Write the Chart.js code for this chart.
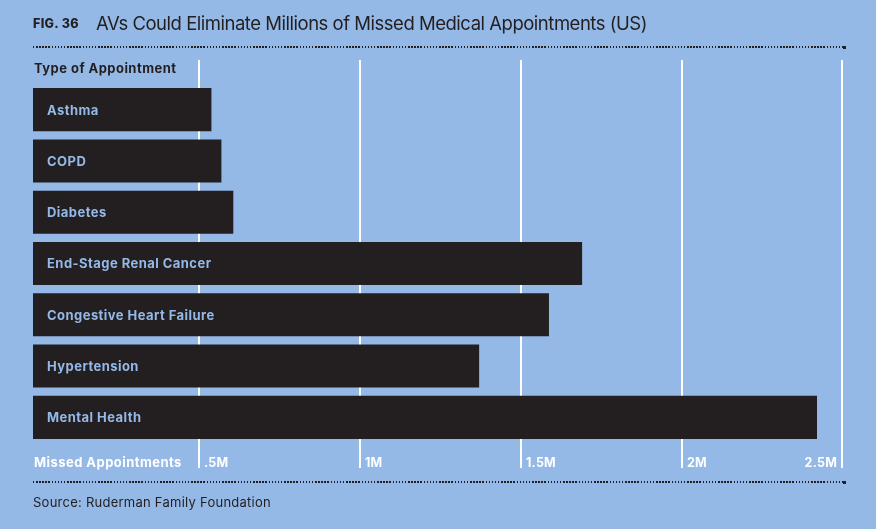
<!DOCTYPE html>
<html>
<head>
<meta charset="utf-8">
<script src="https://cdn.jsdelivr.net/npm/chart.js@4"></script>
<style>
  html, body { margin:0; padding:0; }
  body { width:876px; height:529px; background:#94b9e7; position:relative; overflow:hidden; font-family: Inter, "Noto Sans", sans-serif; color:#231f20; }
  #wrap { position:absolute; left:0; top:0; width:876px; height:529px; }
  .abs { position:absolute; white-space:nowrap; }
  .dots { position:absolute; left:33px; width:810px; height:2px;
    background-image: repeating-linear-gradient(to right, #231f20 0, #231f20 1.5px, transparent 1.5px, transparent 3.1px); }
  .dotend { position:absolute; width:3px; height:3px; background:#231f20; }
</style>
</head>
<body>
<div id="wrap"><canvas id="c" width="876" height="529"></canvas></div>
<div class="abs" style="left:33px; top:16px; font-size:12.5px; font-weight:800; letter-spacing:0.35px;">FIG. 36</div>
<div class="abs" style="left:96px; top:12px; font-size:18.5px; font-weight:400; letter-spacing:-0.48px;">AVs Could Eliminate Millions of Missed Medical Appointments (US)</div>
<div class="dots" style="top:46px;"></div><div class="dotend" style="left:843px; top:45.5px;"></div>
<div class="abs" style="left:34px; top:60px; font-size:13px; font-weight:700; letter-spacing:0.45px;">Type of Appointment</div>
<div class="abs" style="left:34px; top:454px; font-size:13px; font-weight:700; letter-spacing:0.45px; color:#ffffff;">Missed Appointments</div>
<div class="dots" style="top:481px;"></div><div class="dotend" style="left:843px; top:480.5px;"></div>
<div class="abs" style="left:33px; top:494px; font-size:13px; font-weight:400; letter-spacing:0.25px;">Source: Ruderman Family Foundation</div>
<script>
const categories = ["Asthma", "COPD", "Diabetes", "End-Stage Renal Cancer", "Congestive Heart Failure", "Hypertension", "Mental Health"];
const missedMillions = [0.539, 0.570, 0.607, 1.691, 1.588, 1.371, 2.421];
const tickValues = [0.5, 1, 1.5, 2, 2.5];
const tickLabels = [".5M", "1M", "1.5M", "2M", "2.5M"];

const axisMin = -0.0155;
const axisMax = 2.508;

const overlay = {
  id: 'overlay',
  beforeDatasetsDraw(chart) {
    const ctx = chart.ctx, x = chart.scales.x, area = chart.chartArea;
    ctx.save();
    ctx.strokeStyle = '#ffffff';
    ctx.lineWidth = 2;
    tickValues.forEach(v => {
      const px = Math.round(x.getPixelForValue(v));
      ctx.beginPath();
      ctx.moveTo(px, area.top - 24);
      ctx.lineTo(px, area.bottom + 25);
      ctx.stroke();
    });
    ctx.restore();
  },
  afterDatasetsDraw(chart) {
    const ctx = chart.ctx, x = chart.scales.x, area = chart.chartArea;
    const meta = chart.getDatasetMeta(0);
    ctx.save();
    ctx.font = '700 13px Inter, "Noto Sans", sans-serif';
    ctx.letterSpacing = '0.45px';
    ctx.fillStyle = '#94b9e7';
    ctx.textBaseline = 'middle';
    ctx.textAlign = 'left';
    meta.data.forEach((bar, i) => {
      ctx.fillText(categories[i], area.left + 14, bar.y + 1);
    });
    ctx.fillStyle = '#ffffff';
    ctx.font = '700 12.5px Inter, "Noto Sans", sans-serif';
    ctx.letterSpacing = '0.2px';
    tickValues.forEach((v, i) => {
      const px = Math.round(x.getPixelForValue(v));
      const last = i === tickValues.length - 1;
      ctx.textAlign = last ? 'right' : 'left';
      ctx.fillText(tickLabels[i], last ? px - 5 : px + 5, area.bottom + 20);
    });
    ctx.restore();
  }
};

new Chart(document.getElementById('c'), {
  type: 'bar',
  data: {
    labels: categories,
    datasets: [{
      data: missedMillions,
      base: axisMin,
      backgroundColor: '#231f20',
      borderWidth: 0,
      barPercentage: 0.84,
      categoryPercentage: 1.0
    }]
  },
  options: {
    indexAxis: 'y',
    responsive: false,
    animation: false,
    devicePixelRatio: 1,
    layout: { padding: { left: 33, right: 31, top: 84, bottom: 86 } },
    plugins: { legend: { display: false }, tooltip: { enabled: false } },
    scales: {
      x: { type: 'linear', min: axisMin, max: axisMax, display: false },
      y: { display: false }
    }
  },
  plugins: [overlay]
});
</script>
</body>
</html>
